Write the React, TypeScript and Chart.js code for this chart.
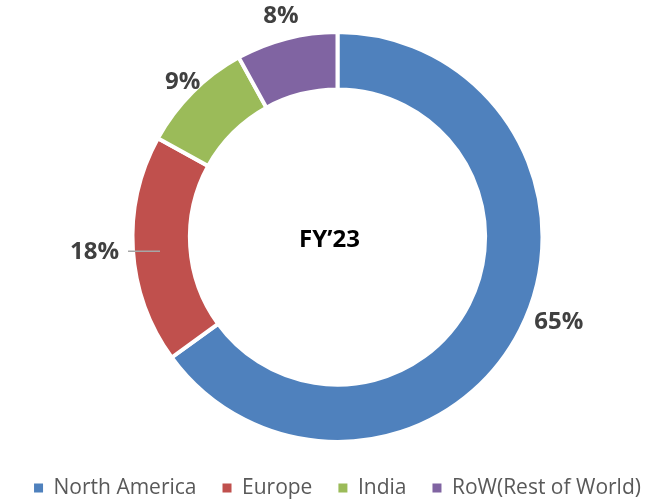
import React, { useEffect, useRef } from "react";
import { Chart, registerables } from "chart.js";

Chart.register(...registerables);

const regions = ["North America", "Europe", "India", "RoW(Rest of World)"];
const shares = [65, 18, 9, 8];
const percentLabels = ["65%", "18%", "9%", "8%"];
const colors = ["#4F81BD", "#C0504D", "#9BBB59", "#8064A2"];
const centerTitle = "FY\u201923";
const labelGap = [32, 38.5, 14, 22.5];
const labelAngleShift = [-6, 0, 0, 0];
const leaderLine = [false, true, false, false];

const outerLabels = {
  id: "outerLabels",
  afterDatasetsDraw(chart: any) {
    const meta = chart.getDatasetMeta(0);
    const ctx = chart.ctx as CanvasRenderingContext2D;
    ctx.save();
    ctx.font = 'bold 24px "Open Sans"';
    ctx.fillStyle = "#404040";
    ctx.textAlign = "center";
    ctx.textBaseline = "middle";
    let cx = 0;
    let cy = 0;
    meta.data.forEach((arc: any, i: number) => {
      const p = arc.getProps(["x", "y", "startAngle", "endAngle", "outerRadius"], true);
      cx = p.x;
      cy = p.y;
      const mid = (p.startAngle + p.endAngle) / 2 + (labelAngleShift[i] * Math.PI) / 180;
      const d = p.outerRadius + labelGap[i];
      const lx = p.x + Math.cos(mid) * d;
      const ly = p.y + Math.sin(mid) * d;
      ctx.fillStyle = "#404040";
      ctx.fillText(percentLabels[i], lx, ly);
      if (leaderLine[i]) {
        const w = ctx.measureText(percentLabels[i]).width;
        ctx.beginPath();
        ctx.strokeStyle = "#A6A6A6";
        ctx.lineWidth = 1.5;
        ctx.moveTo(lx + w / 2 + 9, ly - 1);
        ctx.lineTo(lx + w / 2 + 41, ly - 1);
        ctx.stroke();
      }
    });
    ctx.fillStyle = "#000000";
    ctx.fillText(centerTitle, cx - 8, cy + 3);
    ctx.restore();
  },
};

export default function App() {
  const ref = useRef<HTMLCanvasElement | null>(null);
  useEffect(() => {
    document.body.style.margin = "0";
    if (!ref.current) return;
    const baseGen = (Chart as any).overrides.doughnut.plugins.legend.labels.generateLabels;
    const chart = new Chart(ref.current, {
      type: "doughnut",
      data: {
        labels: regions,
        datasets: [
          {
            data: shares,
            backgroundColor: colors,
            borderColor: "#ffffff",
            borderWidth: 4,
          },
        ],
      },
      options: {
        responsive: false,
        animation: false,
        radius: 205,
        cutout: 153,
        layout: { padding: { top: 22.5, left: 4, right: 0, bottom: -6.5 } },
        plugins: {
          tooltip: { enabled: false },
          legend: {
            position: "bottom",
            labels: {
              boxWidth: 9,
              boxHeight: 9,
              padding: 26,
              color: "#595959",
              font: { family: '"Open Sans"', size: 21 },
              generateLabels: (c: any) =>
                baseGen(c).map((it: any) => ({ ...it, lineWidth: 0, strokeStyle: "rgba(0,0,0,0)" })),
            },
          },
        },
      } as any,
      plugins: [outerLabels],
    });
    return () => chart.destroy();
  }, []);
  return (
    <div style={{ position: "absolute", left: 0, top: 0, width: 671, height: 502, background: "#fff" }}>
      <canvas ref={ref} width={671} height={502} />
    </div>
  );
}
